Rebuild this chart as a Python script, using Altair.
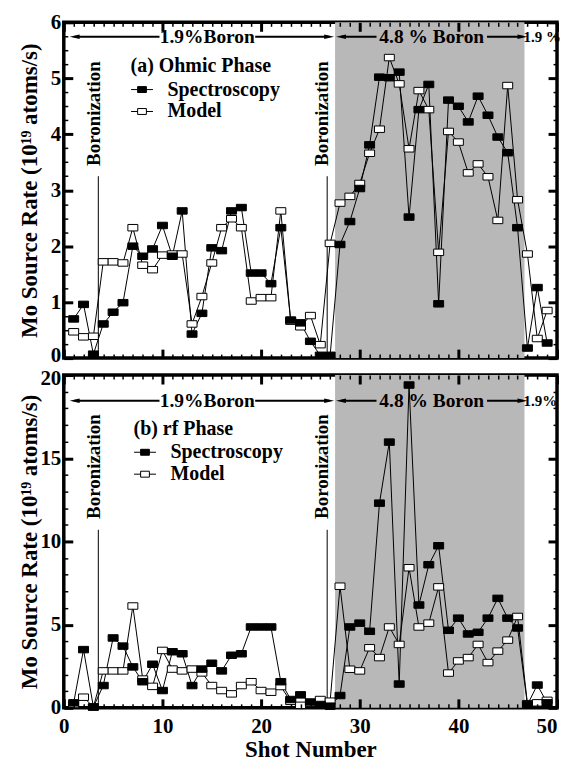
import altair as alt
import pandas as pd

# ---------------- data ----------------
shots = list(range(1, 50))

ohmic_spectroscopy = [0.70, 0.96, 0.07, 0.61, 0.82, 0.99, 2.00, 1.82, 1.95, 2.37, 1.82, 2.63, 0.43, 0.80,
                      1.97, 1.92, 2.63, 2.69, 1.52, 1.52, 1.33, 2.33, 0.68, 0.63, 0.30, 0.05, 0.05,
                      2.03, 2.44, 3.03, 3.81, 5.02, 5.01, 5.11, 2.52, 4.44, 4.89, 0.97, 4.61, 4.50,
                      4.22, 4.68, 4.34, 3.95, 3.67, 2.33, 0.18, 1.26, 0.27]
ohmic_model = [0.47, 0.38, 0.39, 1.72, 1.72, 1.70, 2.33, 1.66, 1.58, 1.84, 1.86, 1.86, 0.61, 1.10,
               1.70, 2.33, 2.49, 2.33, 1.02, 1.08, 1.08, 2.63, 0.66, 0.56, 0.76, 0.24, 2.05,
               2.77, 2.89, 3.12, 3.66, 4.09, 5.37, 4.90, 3.74, 4.78, 4.44, 1.89, 4.05, 3.86,
               3.31, 3.47, 3.24, 2.46, 4.87, 2.83, 1.86, 0.35, 0.85]
rf_spectroscopy = [0.30, 3.50, 0.05, 1.34, 4.20, 3.71, 2.46, 1.57, 2.62, 1.04, 3.37, 3.25, 1.34, 2.33,
                   2.68, 2.22, 3.16, 3.25, 4.86, 4.86, 4.86, 1.57, 0.50, 0.78, 0.35, 0.20, 0.10,
                   0.74, 4.86, 5.09, 4.60, 12.30, 15.97, 1.43, 19.40, 6.18, 8.60, 9.74, 4.66, 5.39,
                   4.44, 4.54, 5.39, 6.58, 5.39, 4.80, 0.19, 1.37, 0.30]
rf_model = [0.20, 0.64, 0.05, 2.22, 2.22, 2.22, 6.12, 1.73, 1.29, 3.45, 2.33, 2.22, 2.33, 2.10,
            1.34, 1.04, 0.84, 1.34, 1.57, 1.04, 0.94, 1.28, 0.39, 0.15, 0.27, 0.50, 0.40,
            7.31, 2.32, 2.22, 3.61, 3.02, 4.86, 3.81, 8.42, 4.86, 5.09, 7.27, 2.09, 2.82,
            3.02, 3.81, 2.72, 3.41, 4.07, 5.49, 0.25, 0.30, 0.45]

series_names = ["Spectroscopy", "Model"]
boron_48_period = [27.5, 46.7]          # shaded 4.8 % boron shots
boronization_shots = [3.5, 26.7]
x_label_values = [0, 10, 20, 30, 40, 50]
arrow_texts = ["1.9%Boron", "4.8 % Boron"]

FONT = "Liberation Serif"
W = 495


def tick_axis(orient, offset, values, test):
    return alt.Axis(orient=orient, offset=offset, values=values, labels=False, domain=False,
                    grid=False, title=None, tickColor="black", zindex=2, minExtent=0,
                    tickSize={"condition": {"test": test, "value": 9}, "value": 4},
                    tickWidth={"condition": {"test": test, "value": 3}, "value": 1.5})


def panel(spec, model, ymax, ylabels, yminor, ytest, H, legend_title, legend_x, legend_y,
          arrow_y, label_y, rule_top, right_text, right_x, right_size, show_x, edge_label, edge_shift):
    xs = alt.Scale(domain=[0, 50], nice=False, zero=False)
    ys = alt.Scale(domain=[0, ymax], nice=False, zero=True)
    xminor = list(range(0, 51))
    xtest = "datum.value % 10 === 0"

    df = pd.DataFrame({"shot": shots + shots, "rate": spec + model,
                       "series": ["Spectroscopy"] * len(shots) + ["Model"] * len(shots)})

    if show_x:
        xlab = alt.Axis(orient="bottom", values=x_label_values, ticks=False, domain=False, grid=False,
                        labelFontSize=21, labelPadding=8, title="Shot Number", titleFontSize=23,
                        titlePadding=2, format="d", minExtent=0,
                        labelAlign={"condition": {"test": "datum.value === 50", "value": "right"},
                                    "value": "center"})
    else:
        xlab = None
    ylab = alt.Axis(orient="left", values=ylabels, ticks=False, domain=False, grid=False,
                    labelFontSize=21, labelPadding=3, format="d", minExtent=0,
                    labelOffset={"condition": {"test": f"datum.value === {edge_label}", "value": edge_shift},
                                 "value": 0},
                    title="Mo Source Rate (10¹⁹ atoms/s)", titleFontSize=23, titleX=-22)

    shade = alt.Chart(pd.DataFrame({"start": [boron_48_period[0]], "end": [boron_48_period[1]]})).mark_rect(
        color="#b8b8b8").encode(x=alt.X("start:Q", scale=xs, axis=xlab), x2="end:Q")

    rules = alt.Chart(pd.DataFrame({"x": boronization_shots, "y0": [0, 0], "y1": [rule_top, rule_top]})).mark_rule(
        color="black", strokeWidth=1).encode(
        x=alt.X("x:Q", scale=xs, axis=tick_axis("top", -H, xminor, xtest)),
        y=alt.Y("y0:Q", scale=ys, axis=ylab), y2="y1:Q")

    lines = alt.Chart(df).mark_line(color="black", strokeWidth=1).encode(
        x=alt.X("shot:Q", scale=xs, axis=tick_axis("bottom", -H, xminor, xtest)),
        y=alt.Y("rate:Q", scale=ys, axis=tick_axis("right", -W, yminor, ytest)),
        detail="series:N")

    pts = alt.Chart(df).mark_point(shape="M-1,-0.65H1V0.65H-1Z", filled=True, size=100, stroke="black",
                                   strokeWidth=1, opacity=1).encode(
        x=alt.X("shot:Q", scale=xs, axis=None),
        y=alt.Y("rate:Q", scale=ys, axis=tick_axis("left", -W, yminor, ytest)),
        fill=alt.Fill("series:N", scale=alt.Scale(domain=series_names, range=["black", "white"]),
                      legend=alt.Legend(title=legend_title, orient="none", legendX=legend_x, legendY=legend_y,
                                        titleFont=FONT, titleFontSize=20, titleFontWeight="bold",
                                        titleColor="black", titlePadding=2,
                                        labelFont=FONT, labelFontSize=20, labelFontWeight="bold",
                                        labelColor="black", labelOffset=14,
                                        symbolType="M-1,0H-0.4M-0.4,-0.27H0.4V0.27H-0.4ZM0.4,0H1",
                                        symbolSize=484, symbolStrokeColor="black", symbolStrokeWidth=1,
                                        padding=0, rowPadding=0)),
        order=alt.Order("series:N", sort="ascending"))

    arrow_df = pd.DataFrame({"x": [1.1, 19.4, 28.1, 42.9], "x2": [9.7, 26.9, 31.7, 46.5],
                             "y": [arrow_y] * 4})
    arrows = alt.Chart(arrow_df).mark_rule(color="black", strokeWidth=2).encode(
        x=alt.X("x:Q", scale=xs, axis=None), x2="x2:Q", y=alt.Y("y:Q", scale=ys, axis=None))

    heads_df = pd.DataFrame({"x": [1.1, 26.9, 28.1, 46.5], "y": [arrow_y] * 4,
                             "dir": ["left", "right", "left", "right"]})
    heads = alt.Chart(heads_df).mark_point(filled=True, color="black", opacity=1, size=100).encode(
        x=alt.X("x:Q", scale=xs, axis=None), y=alt.Y("y:Q", scale=ys, axis=None),
        shape=alt.Shape("dir:N", scale=alt.Scale(domain=["left", "right"],
                                                 range=["M-1,0L1,-0.45L1,0.45Z", "M1,0L-1,-0.45L-1,0.45Z"]),
                        legend=None))

    txt = alt.Chart(pd.DataFrame({"x": [14.55, 37.3], "y": [arrow_y] * 2, "t": arrow_texts})).mark_text(
        font=FONT, fontSize=19.5, fontWeight="bold", color="black", align="center", baseline="middle").encode(
        x=alt.X("x:Q", scale=xs, axis=None), y=alt.Y("y:Q", scale=ys, axis=None), text="t:N")

    rtxt = alt.Chart(pd.DataFrame({"x": [right_x], "y": [arrow_y], "t": [right_text]})).mark_text(
        font=FONT, fontSize=right_size, fontWeight="bold", color="black", align="left",
        baseline="middle").encode(
        x=alt.X("x:Q", scale=xs, axis=None), y=alt.Y("y:Q", scale=ys, axis=None), text="t:N")

    btxt = alt.Chart(pd.DataFrame({"x": [3.05, 26.2], "y": [label_y] * 2, "t": ["Boronization"] * 2})).mark_text(
        font=FONT, fontSize=19, fontWeight="bold", color="black", align="center", baseline="middle",
        angle=270).encode(
        x=alt.X("x:Q", scale=xs, axis=None), y=alt.Y("y:Q", scale=ys, axis=None), text="t:N")

    return alt.layer(shade, rules, lines, pts, arrows, heads, txt, rtxt, btxt).resolve_axis(
        x="independent", y="independent").properties(width=W, height=H)


top = panel(ohmic_spectroscopy, ohmic_model, 6, [0, 1, 2, 3, 4, 5, 6],
            [i * 0.25 for i in range(25)], "datum.value % 1 === 0", 337,
            "(a) Ohmic Phase", 67, 34, 5.74, 4.37, 3.25, "1.9 %", 46.6, 15, False, 0, -3)
bottom = panel(rf_spectroscopy, rf_model, 20, [0, 5, 10, 15, 20],
               list(range(0, 21)), "datum.value % 5 === 0", 334,
               "(b) rf Phase", 70, 44, 18.46, 14.5, 10.7, "1.9%", 46.6, 15, True, 20, 3)

chart = alt.vconcat(top, bottom, spacing=17, bounds="flush").resolve_scale(
    fill="independent").resolve_legend(fill="independent").properties(
    padding={"left": 9, "top": 0, "right": 0, "bottom": 0}, background="white").configure_view(
    stroke="black", strokeWidth=3.5).configure_axis(
    labelFont=FONT, titleFont=FONT, labelFontWeight="bold", titleFontWeight="bold",
    labelColor="black", titleColor="black")

chart.save("out.html", embed_options={"renderer": "svg", "actions": False})
